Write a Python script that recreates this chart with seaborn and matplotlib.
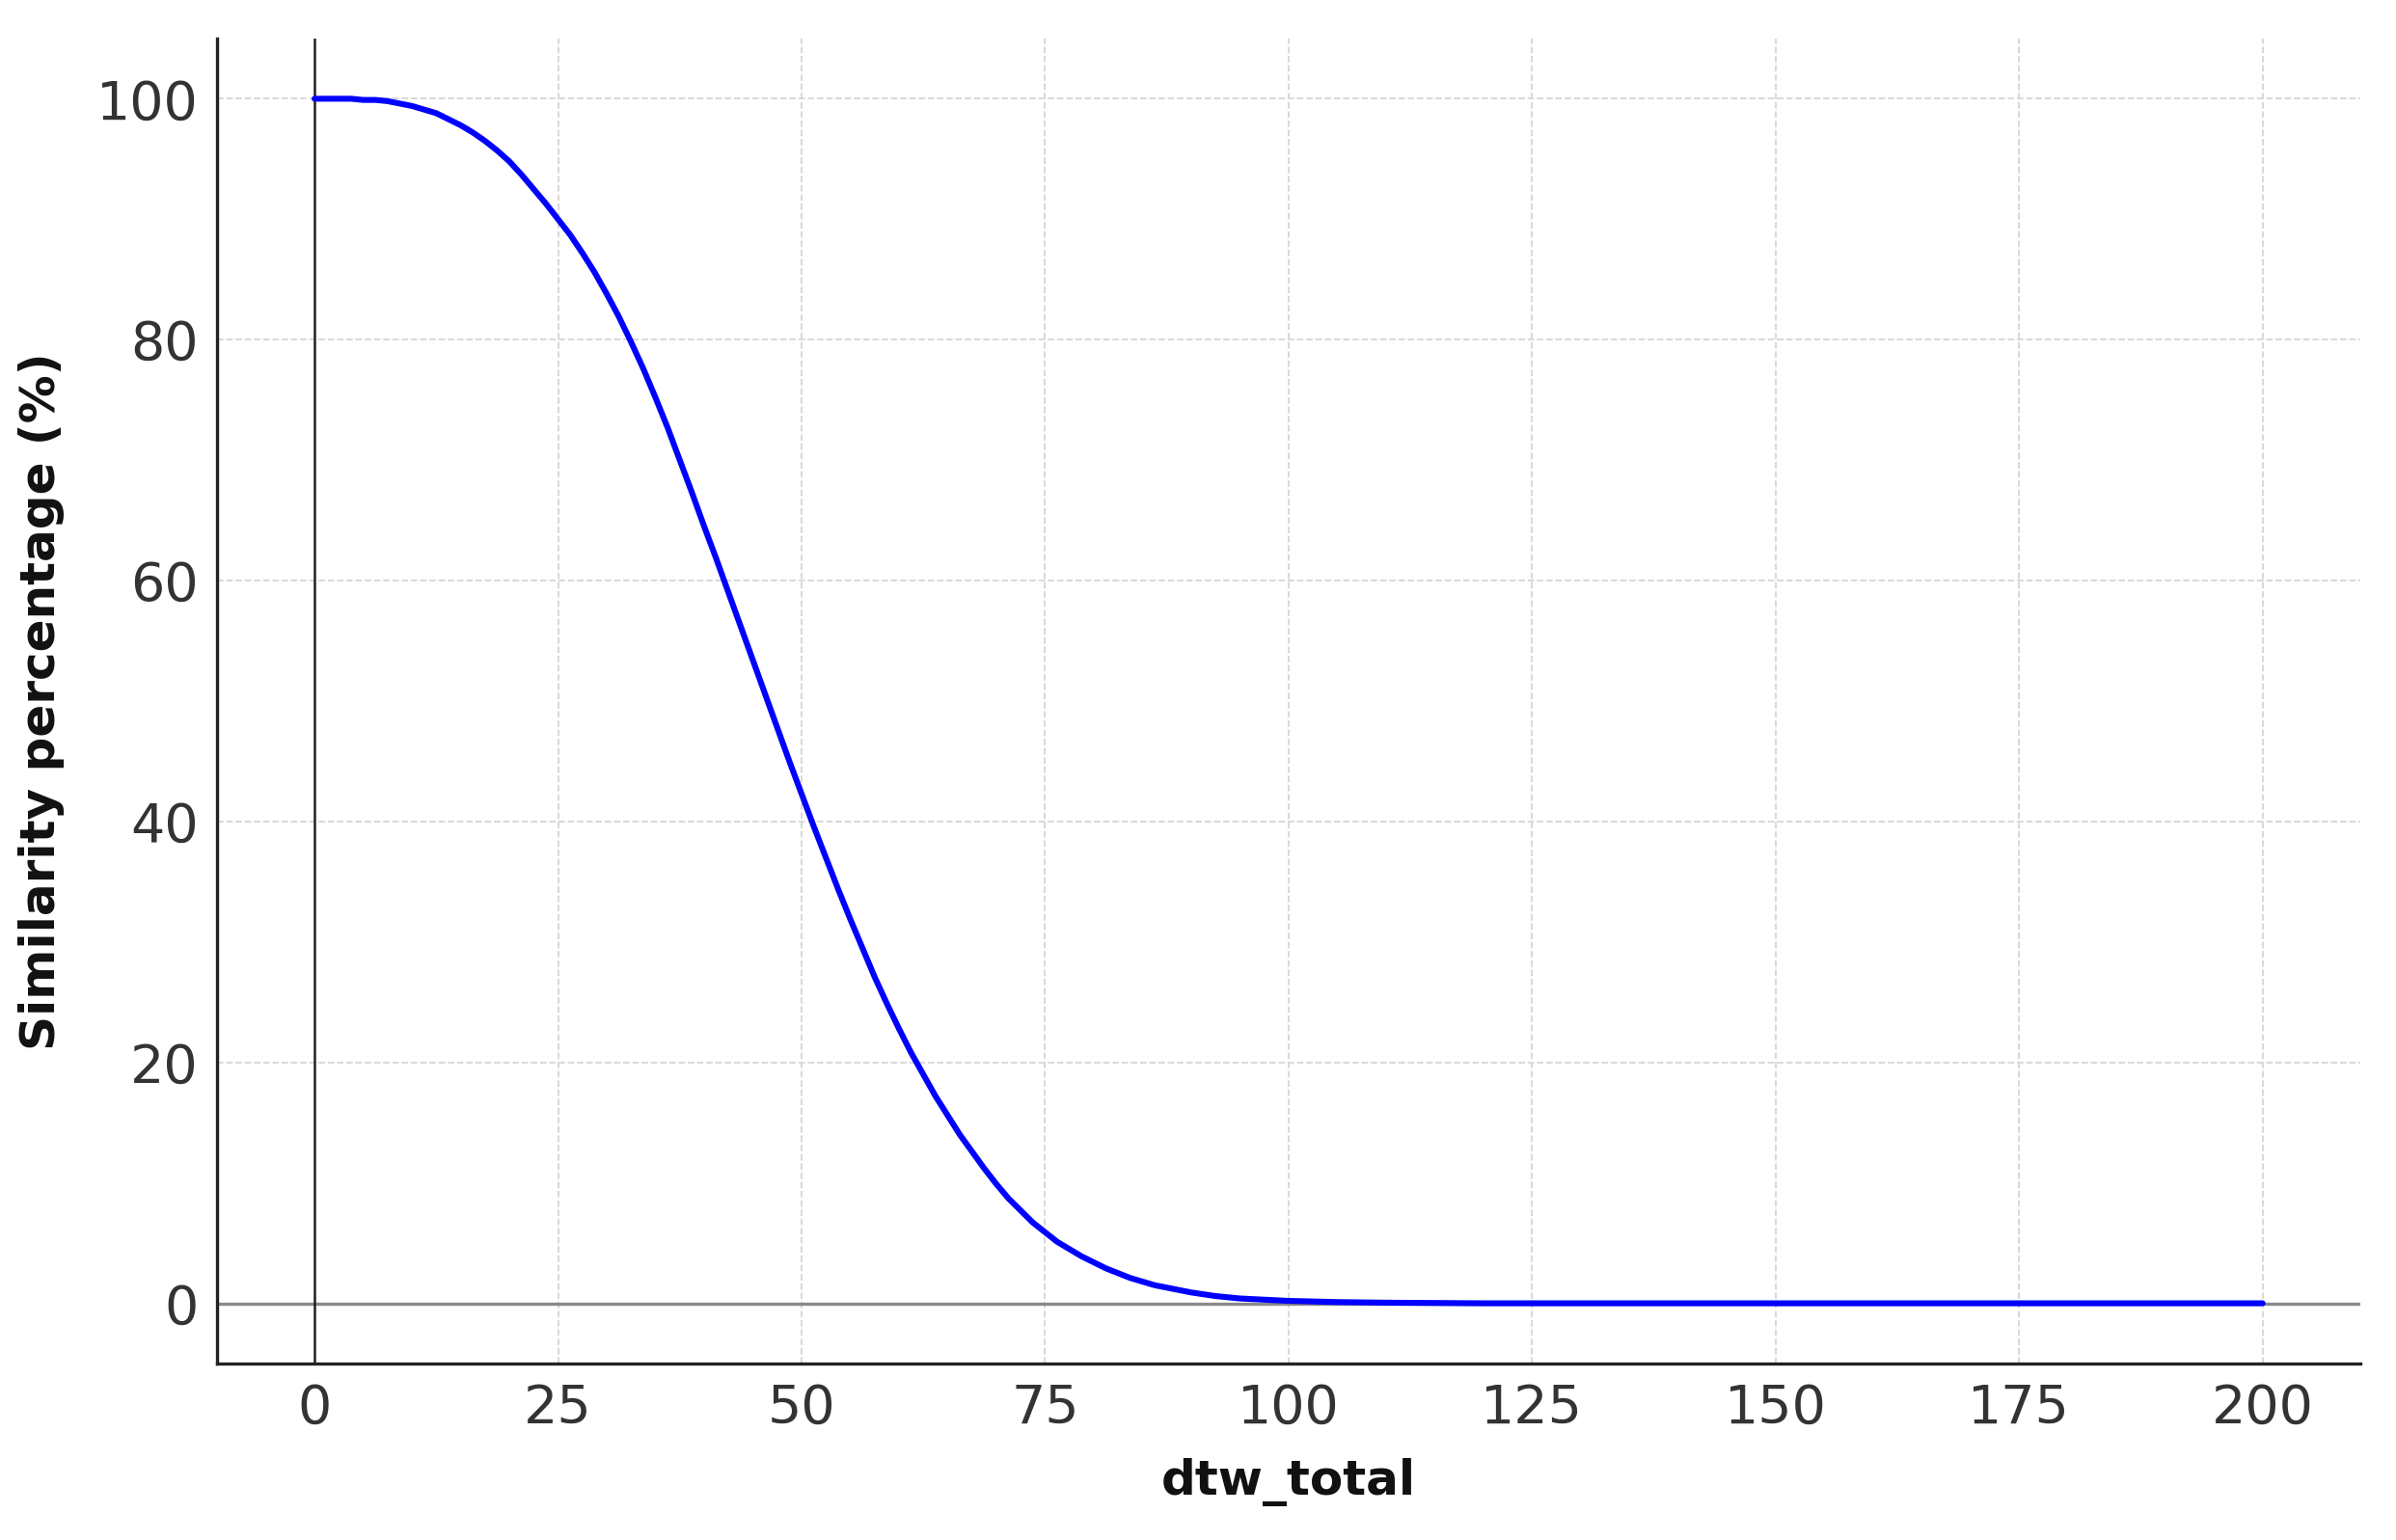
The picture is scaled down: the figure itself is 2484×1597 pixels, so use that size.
import matplotlib
matplotlib.use("Agg")
from matplotlib import pyplot as plt
import seaborn as sns
import pandas as pd

# values (every 1.25 up to 100, then coarser)
dtw_total = [
    0, 1.25, 2.5, 3.75, 5, 6.25, 7.5, 8.75, 10, 11.25,
    12.5, 13.75, 15, 16.25, 17.5, 18.75, 20, 21.25, 22.5, 23.75,
    25, 26.25, 27.5, 28.75, 30, 31.25, 32.5, 33.75, 35, 36.25,
    37.5, 38.75, 40, 41.25, 42.5, 43.75, 45, 46.25, 47.5, 48.75,
    50, 51.25, 52.5, 53.75, 55, 56.25, 57.5, 58.75, 60, 61.25,
    62.5, 63.75, 65, 66.25, 67.5, 68.75, 70, 71.25, 72.5, 73.75,
    75, 76.25, 77.5, 78.75, 80, 81.25, 82.5, 83.75, 85, 86.25,
    87.5, 88.75, 90, 91.25, 92.5, 93.75, 95, 96.25, 97.5, 98.75,
    100, 105, 110, 120, 130, 140, 150, 160, 170, 180, 190, 200,
]
similarity = [
    100.0, 100.0, 100.0, 100.0, 99.9, 99.9, 99.8, 99.6, 99.4, 99.1,
    98.8, 98.3, 97.8, 97.2, 96.5, 95.7, 94.8, 93.7, 92.5, 91.3,
    90.0, 88.7, 87.2, 85.6, 83.8, 81.9, 79.8, 77.6, 75.2, 72.7,
    70.0, 67.3, 64.5, 61.8, 59.0, 56.2, 53.4, 50.6, 47.8, 45.0,
    42.3, 39.6, 37.0, 34.4, 31.9, 29.5, 27.1, 24.9, 22.8, 20.8,
    19.0, 17.2, 15.6, 14.0, 12.6, 11.2, 9.9, 8.7, 7.7, 6.7,
    5.9, 5.1, 4.5, 3.9, 3.4, 2.9, 2.5, 2.1, 1.8, 1.5,
    1.3, 1.1, 0.9, 0.75, 0.6, 0.5, 0.4, 0.35, 0.3, 0.25,
    0.2, 0.1, 0.05, 0.0, 0.0, 0.0, 0.0, 0.0, 0.0, 0.0, 0.0, 0.0,
]
x_ticks = [0, 25, 50, 75, 100, 125, 150, 175, 200]
y_ticks = [0, 20, 40, 60, 80, 100]

df = pd.DataFrame({"dtw_total": dtw_total, "similarity": similarity})

sns.set_theme(style="white")
plt.rcParams["font.family"] = ["DejaVu Sans"]

fig = plt.figure(figsize=(24.84, 15.97), dpi=100)
ax = fig.add_axes([0.0906, 0.1146, 0.8944, 0.8604])

# reference lines through the origin
ax.axhline(0, color="#8a8a8a", linewidth=2.4, zorder=1)
ax.axvline(0, color="#222222", linewidth=1.8, zorder=1)

sns.lineplot(data=df, x="dtw_total", y="similarity", color="#0000ff",
             linewidth=4.4, ax=ax, zorder=3)

ax.set_xlim(-10, 210)
ax.set_ylim(-5, 105)
ax.set_xticks(x_ticks)
ax.set_yticks(y_ticks)

ax.grid(True, linestyle="--", color="#d6d6d6", linewidth=1.3)
ax.set_axisbelow(True)

for side in ["top", "right"]:
    ax.spines[side].set_visible(False)
for side in ["left", "bottom"]:
    ax.spines[side].set_color("#222222")
    ax.spines[side].set_linewidth(2.4)

ax.tick_params(axis="both", direction="in", length=11, width=2,
               color="#444444", labelsize=40, labelcolor="#333333", pad=14)

ax.set_xlabel("dtw_total", fontsize=36, fontweight="bold", color="#111111",
              labelpad=18)
ax.set_ylabel("Similarity percentage (%)", fontsize=36, fontweight="bold",
              color="#111111", labelpad=24)

fig.savefig("out.png", dpi=100, facecolor="white")
